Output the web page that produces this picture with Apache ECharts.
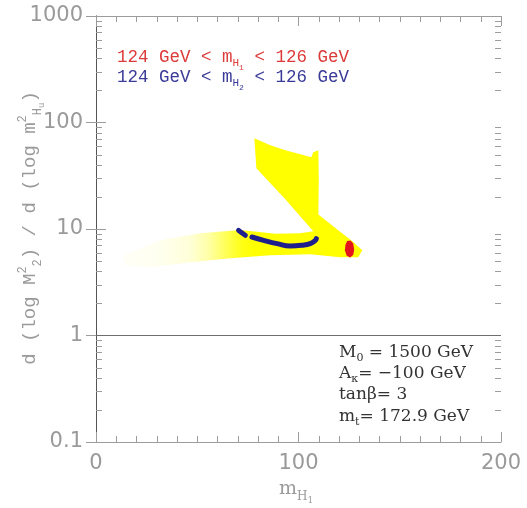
<!DOCTYPE html>
<html>
<head>
<meta charset="utf-8">
<script src="https://cdn.jsdelivr.net/npm/echarts@6/dist/echarts.min.js"></script>
<style>
  html, body { margin: 0; padding: 0; background: #ffffff; }
  #chart { width: 527px; height: 508px; }
</style>
</head>
<body>
<div id="chart"></div>
<script>
// Allowed region (yellow): outline in (m_H1, d log M2^2 / d log m_Hu^2)
var regionX = [13.0, 31.8, 51.5, 71.3, 88.6, 100.9, 107.3, 93.5, 79.2, 78.2, 86.1, 93.5, 100.9, 106.3, 107.3, 109.8, 110.0, 109.8, 118.2, 126.6, 131.5, 129.5, 120.6, 105.8, 86.1, 66.3, 46.6, 26.8, 14.5];
var regionY = [5.54, 7.83, 9.12, 9.8, 9.0, 9.1, 9.5, 19.0, 37.2, 71.1, 61.1, 54.8, 50.3, 47.1, 52.5, 54.8, 28.6, 13.7, 10.2, 7.67, 6.31, 5.42, 5.42, 5.78, 5.66, 5.31, 4.87, 4.37, 4.58];

// 124 GeV < m_H1 < 126 GeV (red)
var redX = [123.2, 124.0, 125.7, 127.0, 127.5, 127.0, 125.5, 123.8, 122.9];
var redY = [7.1, 7.7, 7.8, 7.3, 6.4, 5.7, 5.4, 5.6, 6.3];

// 124 GeV < m_H2 < 126 GeV (blue), two pieces
var blueX1 = [70.4, 72.0, 73.7];
var blueY1 = [9.72, 9.2, 8.73];
var blueX2 = [77.0, 82.8, 89.4, 95.9, 101.7, 105.8, 108.3, 108.8];
var blueY2 = [8.41, 7.83, 7.29, 6.92, 7.03, 7.29, 7.83, 8.13];

// Reference line at unity
var unityX = [0, 200];
var unityY = [1, 1];

// Axis ranges and log minor tick positions
var xRange = [0, 200];
var yRange = [0.1, 1000];
var yMinorTicks = [0.2, 0.3, 0.4, 0.5, 0.6, 0.7, 0.8, 0.9, 2, 3, 4, 5, 6, 7, 8, 9, 20, 30, 40, 50, 60, 70, 80, 90, 200, 300, 400, 500, 600, 700, 800, 900];

function pairs(xs, ys) { return xs.map(function (x, i) { return [x, ys[i]]; }); }

var chart = echarts.init(document.getElementById('chart'), null, { renderer: 'canvas' });

var frameColor = '#9c9c9c';
var labelStyle = { color: '#9a9a9a', fontFamily: 'DejaVu Sans', fontSize: 21 };

function polygonRenderer(xs, ys, fill) {
  return function (params, api) {
    var pts = xs.map(function (x, i) { return api.coord([x, ys[i]]); });
    return { type: 'polygon', shape: { points: pts }, style: { fill: fill, stroke: null } };
  };
}

// Fades out toward low m_H1
var yellowFill = new echarts.graphic.LinearGradient(0, 0, 1, 0, [
  { offset: 0.0, color: 'rgba(255,255,0,0.03)' },
  { offset: 0.15, color: 'rgba(255,255,0,0.06)' },
  { offset: 0.28, color: 'rgba(255,255,0,0.15)' },
  { offset: 0.36, color: 'rgba(255,255,0,0.35)' },
  { offset: 0.43, color: 'rgba(255,255,0,0.65)' },
  { offset: 0.50, color: 'rgba(255,255,0,0.92)' },
  { offset: 0.55, color: 'rgba(255,255,0,1)' },
  { offset: 1.0, color: 'rgba(255,255,0,1)' }
]);

function richSet(color, base, family) {
  var f = base || 16;
  var fam = family || 'DejaVu Serif';
  return {
    t: { fontFamily: fam, fontSize: f, lineHeight: f + 2, padding: [4, 0, 0, 0], verticalAlign: 'top', fill: color },
    s: { fontFamily: fam, fontSize: Math.round(f * 0.62), lineHeight: 10, padding: [Math.round(f * 0.78), 0, 0, 0], verticalAlign: 'top', fill: color },
    ss: { fontFamily: fam, fontSize: Math.round(f * 0.45), lineHeight: 7, padding: [Math.round(f * 1.12), 0, 0, 0], verticalAlign: 'top', fill: color },
    p: { fontFamily: fam, fontSize: Math.round(f * 0.62), lineHeight: 10, padding: [0, 0, 0, 0], verticalAlign: 'top', fill: color }
  };
}

var option = {
  animation: false,
  backgroundColor: '#ffffff',
  grid: { left: 96, right: 26, top: 16, bottom: 66, containLabel: false },
  xAxis: [{
    type: 'value', min: xRange[0], max: xRange[1], interval: 100, position: 'bottom',
    axisLine: { show: true, lineStyle: { color: frameColor, width: 1 } },
    axisTick: { show: true, inside: true, length: 10, lineStyle: { color: frameColor } },
    minorTick: { show: true, splitNumber: 10, length: 6, lineStyle: { color: frameColor } },
    axisLabel: Object.assign({ margin: 11 }, labelStyle),
    splitLine: { show: false }
  }, {
    type: 'value', min: xRange[0], max: xRange[1], interval: 100, position: 'top',
    axisLine: { show: true, lineStyle: { color: frameColor, width: 1 } },
    axisTick: { show: true, inside: true, length: 10, lineStyle: { color: frameColor } },
    minorTick: { show: true, splitNumber: 10, length: 6, lineStyle: { color: frameColor } },
    axisLabel: { show: false },
    splitLine: { show: false }
  }],
  yAxis: [{
    type: 'log', logBase: 10, min: yRange[0], max: yRange[1], position: 'left',
    axisLine: { show: true, lineStyle: { color: frameColor, width: 1 } },
    axisTick: { show: true, inside: true, length: 10, lineStyle: { color: frameColor } },
    axisLabel: Object.assign({ margin: 13, formatter: function (v) { return String(+v.toPrecision(3)); } }, labelStyle),
    splitLine: { show: false }
  }, {
    type: 'log', logBase: 10, min: yRange[0], max: yRange[1], position: 'right',
    axisLine: { show: true, lineStyle: { color: '#555555', width: 1 } },
    axisTick: { show: true, inside: true, length: 10, lineStyle: { color: frameColor } },
    axisLabel: { show: false },
    splitLine: { show: false }
  }],
  series: [
    {
      name: 'region', type: 'custom', xAxisIndex: 0, yAxisIndex: 0, clip: true,
      data: [[regionX[0], regionY[0]]],
      renderItem: polygonRenderer(regionX, regionY, yellowFill),
      z: 2
    },
    {
      name: 'unity', type: 'line', xAxisIndex: 0, yAxisIndex: 0,
      data: pairs(unityX, unityY), symbol: 'none',
      lineStyle: { color: '#6e6e6e', width: 1 }, z: 3
    },
    {
      name: 'mH2 a', type: 'line', xAxisIndex: 0, yAxisIndex: 0,
      data: pairs(blueX1, blueY1), symbol: 'none', smooth: true,
      lineStyle: { color: '#1e1e8c', width: 5, cap: 'round' }, z: 4
    },
    {
      name: 'mH2 b', type: 'line', xAxisIndex: 0, yAxisIndex: 0,
      data: pairs(blueX2, blueY2), symbol: 'none', smooth: true,
      lineStyle: { color: '#1e1e8c', width: 5, cap: 'round' }, z: 4
    },
    {
      name: 'mH1', type: 'custom', xAxisIndex: 0, yAxisIndex: 0,
      data: [[redX[0], redY[0]]],
      renderItem: polygonRenderer(redX, redY, '#e3141c'),
      z: 5
    },
    {
      name: 'minor ticks', type: 'custom', xAxisIndex: 0, yAxisIndex: 0, clip: false,
      data: yMinorTicks.map(function (v) { return [xRange[0], v]; }),
      renderItem: function (params, api) {
        var cs = params.coordSys;
        var y = Math.round(api.coord([xRange[0], api.value(1)])[1]) + 0.5;
        var x0 = cs.x, x1 = cs.x + cs.width;
        return {
          type: 'group',
          children: [
            { type: 'line', shape: { x1: x0, y1: y, x2: x0 + 6, y2: y }, style: { stroke: frameColor, lineWidth: 1 } },
            { type: 'line', shape: { x1: x1 - 6, y1: y, x2: x1, y2: y }, style: { stroke: frameColor, lineWidth: 1 } }
          ]
        };
      },
      z: 6
    }
  ],
  graphic: [
    {
      type: 'text', left: 117, top: 44,
      style: {
        text: '{t|124 GeV < m}{s|H}{ss|1}{t| < 126 GeV}',
        rich: richSet('#dd3a3a', 17.5, 'Liberation Mono')
      }
    },
    {
      type: 'text', left: 117, top: 64,
      style: {
        text: '{t|124 GeV < m}{s|H}{ss|2}{t| < 126 GeV}',
        rich: richSet('#3a3a98', 17.5, 'Liberation Mono')
      }
    },
    {
      type: 'text', left: 339, top: 340,
      style: { text: '{t|M}{s|0}{t| = 1500 GeV}', rich: richSet('#333333', 17) }
    },
    {
      type: 'text', left: 339, top: 361,
      style: { text: '{t|A}{s|κ}{t|= −100 GeV}', rich: richSet('#333333', 17) }
    },
    {
      type: 'text', left: 339, top: 382,
      style: { text: '{t|tanβ= 3}', rich: richSet('#333333', 17) }
    },
    {
      type: 'text', left: 339, top: 404,
      style: { text: '{t|m}{s|t}{t|= 172.9 GeV}', rich: richSet('#333333', 17) }
    },
    {
      type: 'text', x: 296, y: 486,
      style: {
        text: '{t|m}{s|H}{ss|1}',
        rich: richSet('#9a9a9a', 19),
        align: 'center', verticalAlign: 'middle'
      }
    },
    {
      type: 'text', x: 27, y: 228, rotation: Math.PI / 2,
      style: {
        text: '{t|d (log M}{p|2}{s|2}{t|) / d (log m}{p|2}{s|H}{ss|u}{t|)}',
        rich: richSet('#9a9a9a', 19, 'Liberation Mono'),
        align: 'center', verticalAlign: 'middle'
      }
    }
  ]
};

chart.setOption(option);
</script>
</body>
</html>
